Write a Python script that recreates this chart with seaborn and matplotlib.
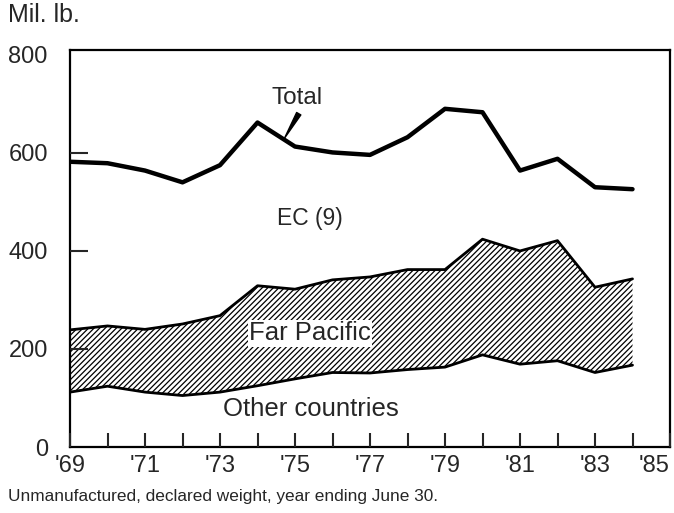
import matplotlib
matplotlib.use("Agg")
import matplotlib.pyplot as plt
import seaborn as sns

# values (mil. lb., year ending June 30)
years = [1969, 1970, 1971, 1972, 1973, 1974, 1975, 1976,
         1977, 1978, 1979, 1980, 1981, 1982, 1983, 1984]
total = [582, 579, 564, 540, 575, 662, 613, 601,
         596, 632, 690, 683, 564, 588, 530, 526]
far_pacific_top = [239, 247, 240, 251, 268, 329, 322, 341,
                   347, 362, 362, 424, 400, 421, 326, 343]
other_countries = [112, 124, 112, 105, 112, 125, 139, 152,
                   151, 158, 163, 188, 169, 176, 152, 167]

x_ticks = list(range(1969, 1986))
x_labels = ["'%02d" % (y % 100) if y % 2 == 1 else '' for y in x_ticks]
y_ticks = [0, 200, 400, 600, 800]

sns.set_style("ticks")
plt.rcParams['font.family'] = ['Liberation Sans', 'DejaVu Sans']
plt.rcParams['hatch.linewidth'] = 0.9

fig = plt.figure(figsize=(6.74, 5.13), dpi=100)
ax = fig.add_axes([70 / 674, 1 - 447 / 513, 600 / 674, 397 / 513])
ax.set_axisbelow(False)  # tick marks sit on top of the hatching

# hatched Far Pacific band
ax.fill_between(years, other_countries, far_pacific_top, facecolor='white',
                edgecolor='black', hatch='//////', linewidth=0)

sns.lineplot(x=years, y=total, ax=ax, color='black', linewidth=3.2)
sns.lineplot(x=years, y=far_pacific_top, ax=ax, color='black', linewidth=2)
sns.lineplot(x=years, y=other_countries, ax=ax, color='black', linewidth=2)

ax.set_xlim(1969, 1985)
ax.set_ylim(0, 810)

# inward ticks, like the printed chart
ax.set_xticks(x_ticks)
ax.set_xticklabels(x_labels, fontsize=17)
ax.tick_params(axis='x', direction='in', length=10, width=1.5, pad=6)
ax.get_xticklabels()[-1].set_ha('right')

ax.set_yticks(y_ticks)
ax.set_yticklabels([str(v) for v in y_ticks], fontsize=17)
ax.tick_params(axis='y', direction='in', length=13, width=1.5, pad=16)
# no tick marks at the corners
for t in (ax.yaxis.get_major_ticks()[0], ax.yaxis.get_major_ticks()[-1]):
    t.tick1line.set_visible(False)

for side in ['top', 'right', 'left', 'bottom']:
    ax.spines[side].set_visible(True)
    ax.spines[side].set_linewidth(1.6)
    ax.spines[side].set_color('black')

# labels inside the plot
ax.text(1975.05, 712, 'Total', ha='center', va='center', fontsize=17.5)
ax.annotate('', xy=(1974.72, 630), xytext=(1975.1, 680),
            arrowprops=dict(arrowstyle='wedge,tail_width=0.35', color='black',
                            shrinkA=0, shrinkB=0))
ax.text(1975.4, 467, 'EC (9)', ha='center', va='center', fontsize=16.5)
ax.text(1975.4, 232, 'Far Pacific', ha='center', va='center', fontsize=18.5,
        bbox=dict(facecolor='white', edgecolor='none', pad=1))
ax.text(1975.43, 78, 'Other countries', ha='center', va='center', fontsize=18.5)

fig.text(8 / 674, 1 - 15 / 513, 'Mil. lb.', ha='left', va='center', fontsize=18)
fig.text(8 / 674, 1 - 497 / 513, 'Unmanufactured, declared weight, year ending June 30.',
         ha='left', va='center', fontsize=12.4)

fig.savefig('out.png', dpi=100)
